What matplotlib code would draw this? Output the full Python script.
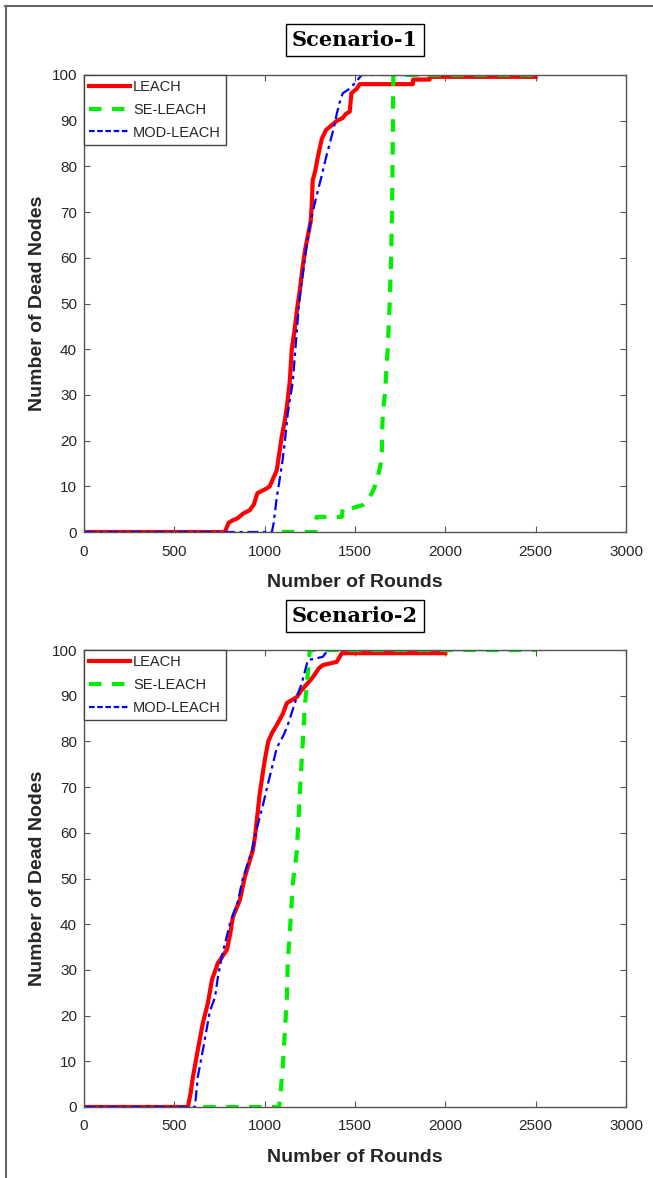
import matplotlib
matplotlib.use("Agg")
import matplotlib.pyplot as plt
from matplotlib.lines import Line2D

# ---------------- data ----------------
s1_leach_r = [0, 780, 790, 800, 825, 850, 880, 918, 940, 960, 985, 1010, 1028, 1050, 1067, 1080, 1095,
              1110, 1125, 1139, 1150, 1165, 1180, 1195, 1210, 1225, 1240, 1255, 1261, 1266, 1280, 1294,
              1305, 1316, 1340, 1371, 1400, 1432, 1450, 1471, 1480, 1510, 1526, 1820, 1822, 1913, 1915, 2500]
s1_leach_d = [0, 0, 1, 2, 2.6, 3, 4, 4.8, 6, 8.5, 9, 9.5, 10, 12, 13.5, 17, 21,
              24, 28, 33, 40, 44, 49, 53, 58, 62, 65, 68, 72, 77, 79, 82,
              84, 86, 88, 89, 90, 90.6, 91.5, 92, 96, 97, 98, 98, 99, 99, 99.6, 99.6]

s1_se_r = [1095, 1280, 1288, 1427, 1432, 1482, 1543, 1570, 1593, 1610, 1626, 1648, 1650, 1654, 1665,
           1681, 1692, 1700, 1705, 1709, 1712, 2500]
s1_se_d = [0, 0, 3.3, 3.3, 5.2, 5.2, 5.9, 7, 8.5, 10, 12, 16, 21.6, 26, 30,
           40, 50, 60, 70, 85, 100, 100]

s1_mod_r = [0, 1040, 1050, 1067, 1085, 1100, 1115, 1128, 1140, 1156, 1170, 1190, 1210, 1230, 1250, 1266,
            1290, 1316, 1340, 1360, 1380, 1399, 1415, 1432, 1470, 1510, 1537, 2500]
s1_mod_d = [0, 0, 2, 7.6, 12, 16, 21, 26, 29, 33, 40, 50, 56, 62, 67, 70,
            74, 78, 82, 85, 88, 91.5, 94, 96, 97, 98.7, 100, 100]

s2_leach_r = [0, 575, 590, 603, 630, 658, 686, 708, 741, 791, 810, 824, 863, 890, 935, 946, 960, 973,
              1001, 1020, 1040, 1073, 1100, 1123, 1178, 1200, 1222, 1266, 1300, 1322, 1399, 1427, 2000]
s2_leach_d = [0, 0, 3, 6.6, 12.5, 18.4, 22.8, 27.8, 31.5, 34.4, 38, 41.6, 45.3, 50.3, 56.2, 59, 64, 68.7,
              76, 80, 81.8, 84, 86, 88.4, 89.7, 91, 92, 94, 96, 96.7, 97.4, 99.3, 99.3]

s2_se_r = [660, 1080, 1090, 1100, 1111, 1123, 1128, 1139, 1156, 1178, 1195, 1211, 1222, 1239, 1250, 2500]
s2_se_d = [0, 0, 4, 8.8, 16, 24, 32, 38, 49, 56, 69, 80, 87.5, 95, 100, 100]

s2_mod_r = [0, 614, 630, 658, 697, 725, 741, 763, 807, 852, 879, 929, 957, 990, 1018, 1045, 1067,
            1100, 1123, 1156, 1180, 1206, 1239, 1322, 1350, 2500]
s2_mod_d = [0, 0, 6.6, 12.5, 21, 24, 28.4, 33, 40, 45, 50, 56, 61, 66, 70.7, 75, 78.6,
            81, 83, 87, 90, 92.8, 97.8, 98.5, 100, 100]

series_names = ["LEACH", "SE-LEACH", "MOD-LEACH"]
titles = ["Scenario-1", "Scenario-2"]
x_ticks = [0, 500, 1000, 1500, 2000, 2500, 3000]
y_ticks = list(range(0, 101, 10))
x_label = "Number of Rounds"
y_label = "Number of Dead Nodes"

# ---------------- figure ----------------
W, H = 653, 1178
fig = plt.figure(figsize=(W / 100, H / 100), dpi=100)
plt.rcParams['font.family'] = ['Liberation Sans', 'DejaVu Sans']

def px_axes(x0, y0, x1, y1):
    return fig.add_axes([x0 / W, 1 - y1 / H, (x1 - x0) / W, (y1 - y0) / H])

ax_tops = [(75, 532), (650, 1107)]
title_y = [40, 616]
data = [
    [(s1_leach_r, s1_leach_d), (s1_se_r, s1_se_d), (s1_mod_r, s1_mod_d)],
    [(s2_leach_r, s2_leach_d), (s2_se_r, s2_se_d), (s2_mod_r, s2_mod_d)],
]

for k in range(2):
    y0, y1 = ax_tops[k]
    ax = px_axes(84, y0, 626, y1)
    (lr, ld), (sr, sd), (mr, md) = data[k]
    ax.plot(lr, ld, color='#ff0000', lw=3.0, ls='-', label=series_names[0])
    ax.plot(sr, sd, color='#00ee00', lw=3.0, ls=(0, (3, 2.5)), label=series_names[1])
    ax.plot(mr, md, color='#0000ff', lw=1.6, ls=(0, (5, 2, 1.5, 2)), label=series_names[2])
    ax.set_xlim(0, 3000)
    ax.set_ylim(0, 100)
    ax.set_xticks(x_ticks)
    ax.set_yticks(y_ticks)
    ax.tick_params(direction='in', top=True, right=True, length=4, width=0.8,
                   colors='#555555', labelcolor='#262626', labelsize=11)
    ax.tick_params(axis='x', pad=9)
    ax.tick_params(axis='y', pad=5)
    for sp in ax.spines.values():
        sp.set_color('#555555')
        sp.set_linewidth(1.0)
    ax.set_xlabel(x_label, fontsize=14, fontweight='bold', color='#262626', labelpad=11)
    ax.set_ylabel(y_label, fontsize=14, fontweight='bold', color='#262626', labelpad=4)
    leg_handles = [
        Line2D([], [], color='#ff0000', lw=3.0, ls='-'),
        Line2D([], [], color='#00ee00', lw=3.0, ls=(0, (3, 2.5))),
        Line2D([], [], color='#0000ff', lw=1.6, ls=(0, (2.5, 1.2))),
    ]
    leg = ax.legend(leg_handles, series_names, loc='upper left', bbox_to_anchor=(0, 1),
                    fontsize=10.5, frameon=True, fancybox=False, framealpha=1,
                    edgecolor='#444444', borderpad=0.35, handlelength=2.8,
                    handletextpad=0.2, labelspacing=0.6, borderaxespad=0)
    leg.get_frame().set_linewidth(1.0)
    for t in leg.get_texts():
        t.set_color('#262626')
    fig.text(355 / W, 1 - title_y[k] / H, titles[k], ha='center', va='center',
             fontfamily='DejaVu Serif', fontweight='bold', fontsize=15, color='black',
             bbox=dict(boxstyle='square,pad=0.3', facecolor='white', edgecolor='black', lw=1.0))

# outer frame (top & left)
fig.add_artist(Line2D([5 / W, 1], [1 - 6 / H, 1 - 6 / H], transform=fig.transFigure,
                      color='#666666', lw=1.5))
fig.add_artist(Line2D([6 / W, 6 / W], [0, 1 - 6 / H], transform=fig.transFigure,
                      color='#666666', lw=1.5))

fig.savefig("out.png", dpi=100, facecolor='white')
